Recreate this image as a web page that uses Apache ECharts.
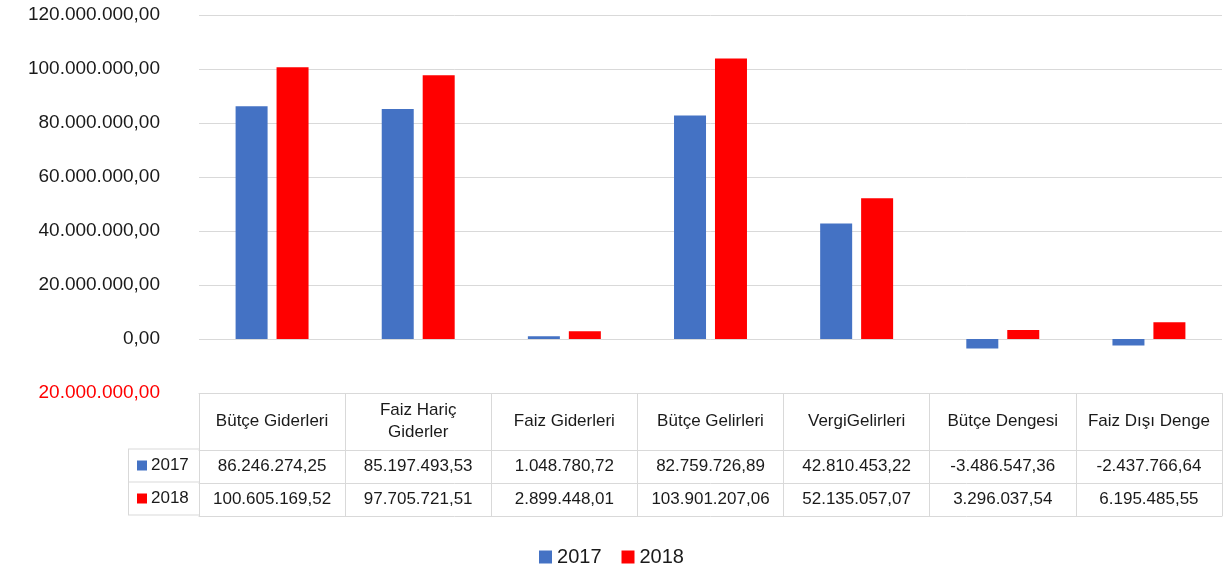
<!DOCTYPE html>
<html lang="tr">
    <head>
        <title>Bütçe 2017 - 2018</title>
        <meta charset="utf-8">
        <script src='https://cdn.jsdelivr.net/npm/echarts@6/dist/echarts.min.js'></script>
    </head>

    <style>
        html, body, #main {
            width: 100%;
            height: 100%;
            margin: 0;
            background: #fff;
        }
    </style>

    <body>
        <div id='main'></div>

        <script>
            const categories = ['Bütçe Giderleri', 'Faiz Hariç Giderler', 'Faiz Giderleri', 'Bütçe Gelirleri',
                'VergiGelirleri', 'Bütçe Dengesi', 'Faiz Dışı Denge'];
            const years = ['2017', '2018'];
            const values2017 = [86246274.25, 85197493.53, 1048780.72, 82759726.89, 42810453.22, -3486547.36, -2437766.64];
            const values2018 = [100605169.52, 97705721.51, 2899448.01, 103901207.06, 52135057.07, 3296037.54, 6195485.55];
            const colors = ['#4472c4', '#ff0000'];

            const font = 'Liberation Sans';
            const border = '#d9d9d9';

            // turkish number format: 1.234.567,89
            const fmt = (v) => {
                const s = Math.abs(v).toFixed(2).split('.');
                return (v < 0 ? '-' : '') + s[0].replace(/\B(?=(\d{3})+(?!\d))/g, '.') + ',' + s[1];
            }

            const rowAxis = (offset, vals) => ({
                type: 'category',
                data: categories,
                position: 'bottom',
                offset: offset,
                axisLine: { onZero: false, lineStyle: { color: border, width: 1 } },
                axisTick: { show: false },
                axisLabel: {
                    show: !!vals,
                    interval: 0,
                    margin: 16.5,
                    verticalAlign: 'middle',
                    fontFamily: font,
                    fontSize: 17,
                    color: '#1a1a1a',
                    formatter: (v, i) => vals ? fmt(vals[i]) : ''
                }
            });

            // left column of the data table (legend keys)
            const keyCol = [];
            [449, 482, 515].forEach(y => keyCol.push({
                type: 'line', shape: { x1: 128, y1: y, x2: 199, y2: y }, style: { stroke: border, lineWidth: 1 }
            }));
            keyCol.push({ type: 'line', shape: { x1: 128.5, y1: 449, x2: 128.5, y2: 515 }, style: { stroke: border, lineWidth: 1 } });
            years.forEach((y, k) => {
                const cy = 465.5 + k * 33;
                keyCol.push({ type: 'rect', shape: { x: 137, y: cy - 5, width: 10, height: 10 }, style: { fill: colors[k] } });
                keyCol.push({ type: 'text', x: 151, y: cy, style: {
                    text: y, fontFamily: font, fontSize: 17, fill: '#1a1a1a', verticalAlign: 'middle'
                } });
            });

            const chart = echarts.init(document.getElementById('main'));

            const option = {
                backgroundColor: '#fff',
                animation: false,
                color: colors,
                grid: { left: 199, right: 1, top: 15, bottom: 177, containLabel: false },
                legend: {
                    data: years,
                    left: 'center',
                    top: 542,
                    icon: 'rect',
                    itemWidth: 13,
                    itemHeight: 13,
                    itemGap: 20,
                    textStyle: { fontFamily: font, fontSize: 20, color: '#1a1a1a' }
                },
                yAxis: {
                    type: 'value',
                    min: -20000000,
                    max: 120000000,
                    interval: 20000000,
                    axisLine: { show: false },
                    axisTick: { show: false },
                    splitLine: { lineStyle: { color: border, width: 1 } },
                    axisLabel: {
                        margin: 39,
                        fontFamily: font,
                        fontSize: 19,
                        color: '#1a1a1a',
                        formatter: v => v < 0 ? '{neg|' + fmt(-v) + '}' : fmt(v),
                        rich: { neg: { color: '#ff0000', fontFamily: font, fontSize: 19 } }
                    }
                },
                xAxis: [
                    {
                        type: 'category',
                        data: categories,
                        position: 'bottom',
                        axisLine: { onZero: false, lineStyle: { color: border, width: 1 } },
                        axisTick: { show: true, interval: 0, length: 123, lineStyle: { color: border } },
                        axisLabel: {
                            interval: 0,
                            margin: 28.5,
                            verticalAlign: 'middle',
                            fontFamily: font,
                            fontSize: 17,
                            lineHeight: 22,
                            color: '#1a1a1a',
                            // only the long name wraps onto two lines
                            formatter: v => v.length > 16 ? v.replace(/ (\S+)$/, '\n$1') : v
                        }
                    },
                    rowAxis(57, values2017),
                    rowAxis(90, values2018),
                    rowAxis(123, null)
                ],
                graphic: keyCol,
                series: [
                    { name: years[0], type: 'bar', xAxisIndex: 0, barWidth: 32, barGap: '28%', data: values2017 },
                    { name: years[1], type: 'bar', xAxisIndex: 0, barWidth: 32, barGap: '28%', data: values2018 }
                ]
            };

            chart.setOption(option);

            window.onresize = function () {
                chart.resize();
            }
        </script>
    </body>
</html>
